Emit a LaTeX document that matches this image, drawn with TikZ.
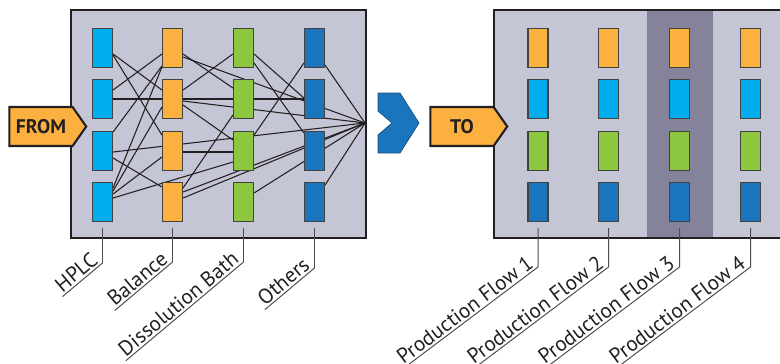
\documentclass[tikz,border=0pt]{standalone}
\usepackage{fontspec}
\setmainfont{PT Sans}
\usetikzlibrary{calc,shapes.symbols,backgrounds}
\definecolor{hplcblue}{HTML}{00AEEF}
\definecolor{balorange}{HTML}{FBB040}
\definecolor{bathgreen}{HTML}{8DC63F}
\definecolor{othblue}{HTML}{1B75BC}
\definecolor{panelgray}{HTML}{C4C5D5}
\definecolor{flowshade}{HTML}{84839A}
\definecolor{inkdark}{HTML}{231F20}
\begin{document}
\begin{tikzpicture}[x=0.025cm, y=-0.025cm,
		panel/.style={draw=inkdark, line width=2pt},
		dev/.style={rectangle, draw=inkdark!85, line width=0.8pt, minimum width=0.5cm, minimum height=0.975cm, inner sep=0pt},
		link/.style={draw=inkdark, line width=0.75pt},
		lead/.style={draw=inkdark!80, line width=0.7pt},
		tag/.style={signal, signal to=east, signal pointer angle=110, fill=balorange, draw=inkdark, line width=1.5pt, minimum width=1.92cm, minimum height=0.975cm, font=\bfseries\fontsize{14}{16}\selectfont, text=inkdark},
		lbl/.style={anchor=south east, inner sep=1.5pt, font=\fontsize{15}{18}\selectfont, text=inkdark}
	]
		\useasboundingbox (0,0) rectangle (780,363);
		\clip (0,0) rectangle (780,363);
		
		% the two panels
		\begin{scope}[on background layer]
			\draw[panel, fill=panelgray] (71,10) rectangle (366,238);
			\fill[panelgray] (494,10) rectangle (800,238);
			\fill[flowshade] (647,10) rectangle (713,238);
			\draw[panel] (494,10) rectangle (800,238);
		\end{scope}
		
		% FROM: instruments grouped by type
		\node[dev, fill=hplcblue] (h1) at (102.5,48) {};
		\node[dev, fill=hplcblue] (h2) at (102.5,99) {};
		\node[dev, fill=hplcblue] (h3) at (102.5,151) {};
		\node[dev, fill=hplcblue] (h4) at (102.5,202) {};
		\node[dev, fill=balorange] (b1) at (172.5,48) {};
		\node[dev, fill=balorange] (b2) at (172.5,99) {};
		\node[dev, fill=balorange] (b3) at (172.5,151) {};
		\node[dev, fill=balorange] (b4) at (172.5,202) {};
		\node[dev, fill=bathgreen] (d1) at (243.5,48) {};
		\node[dev, fill=bathgreen] (d2) at (243.5,99) {};
		\node[dev, fill=bathgreen] (d3) at (243.5,151) {};
		\node[dev, fill=bathgreen] (d4) at (243.5,202) {};
		\node[dev, fill=othblue] (o1) at (314.5,48) {};
		\node[dev, fill=othblue] (o2) at (314.5,99) {};
		\node[dev, fill=othblue] (o3) at (314.5,151) {};
		\node[dev, fill=othblue] (o4) at (314.5,202) {};
		\coordinate (hub) at (365,123);
		
		% tangled links between the groups
		\begin{scope}[on background layer]
			\draw[link] ($(h1.east)+(0,6)$) -- ($(b2.west)+(0,-9)$);
			\draw[link] ($(h1.east)+(0,7)$) -- ($(b3.west)+(0,-16)$);
			\draw[link] ($(h2.east)+(0,-9)$) -- ($(b1.west)+(0,6)$);
			\draw[link] (h2.east) -- (o2.west);
			\draw[link] ($(h3.east)+(0,-19)$) -- ($(b1.west)+(0,18)$);
			\draw[link] ($(h3.east)+(0,1)$) -- (hub);
			\draw[link] ($(h3.east)+(0,7)$) -- ($(b4.west)+(0,-15)$);
			\draw[link] ($(h4.east)+(0,-14)$) -- ($(b1.west)+(0,19)$);
			\draw[link] ($(h4.east)+(0,-11)$) -- ($(b2.west)+(0,8)$);
			\draw[link] ($(h4.east)+(0,-8)$) -- ($(b3.west)+(0,6)$);
			\draw[link] ($(h4.east)+(0,-4)$) -- ($(d3.west)+(0,11)$);
			\draw[link] ($(b1.east)+(0,6)$) -- ($(d2.west)+(0,-11)$);
			\draw[link] ($(b1.east)+(0,9)$) -- (hub);
			\draw[link] ($(b2.east)+(0,-9)$) -- ($(d1.west)+(0,6)$);
			\draw[link] ($(b2.east)+(0,2)$) -- (hub);
			\draw[link] ($(b2.east)+(0,6)$) -- ($(d3.west)+(0,-11)$);
			\draw[link] ($(b3.east)+(0,1)$) -- ($(d3.west)+(0,1)$);
			\draw[link] ($(b4.east)+(0,-14)$) -- ($(d2.west)+(0,16)$);
			\draw[link] ($(b4.east)+(0,-10)$) -- (hub);
			\draw[link] ($(b4.east)+(0,-4)$) -- (hub);
			\draw[link] ($(d1.east)+(0,6)$) -- ($(o2.west)+(0,-1)$);
			\draw[link] ($(d1.east)+(0,15)$) -- ($(o3.west)+(0,-18)$);
			\draw[link] ($(d3.east)+(0,-16)$) -- ($(o1.west)+(0,15)$);
			\draw[link] ($(d4.east)+(0,-9)$) -- (hub);
			\draw[link] ($(o1.east)+(0,17)$) -- (hub);
			\draw[link] ($(o4.east)+(0,-17)$) -- (hub);
		\end{scope}
		
		% TO: one flow per column
		\node[dev, fill=balorange] (fa1) at (538,48) {};
		\node[dev, fill=hplcblue] (fb1) at (538,99) {};
		\node[dev, fill=bathgreen] (fc1) at (538,151) {};
		\node[dev, fill=othblue] (fd1) at (538,202) {};
		\node[dev, fill=balorange] (fa2) at (608.5,48) {};
		\node[dev, fill=hplcblue] (fb2) at (608.5,99) {};
		\node[dev, fill=bathgreen] (fc2) at (608.5,151) {};
		\node[dev, fill=othblue] (fd2) at (608.5,202) {};
		\node[dev, fill=balorange] (fa3) at (679.5,48) {};
		\node[dev, fill=hplcblue] (fb3) at (679.5,99) {};
		\node[dev, fill=bathgreen] (fc3) at (679.5,151) {};
		\node[dev, fill=othblue] (fd3) at (679.5,202) {};
		\node[dev, fill=balorange] (fa4) at (750.5,48) {};
		\node[dev, fill=hplcblue] (fb4) at (750.5,99) {};
		\node[dev, fill=bathgreen] (fc4) at (750.5,151) {};
		\node[dev, fill=othblue] (fd4) at (750.5,202) {};
		
		% tags and the big chevron
		\node[tag] (from) at (41,126.5) {FROM};
		\node[tag] (to) at (462,126.5) {TO};
		\filldraw[fill=othblue, draw=othblue!70!black, line width=0.5pt]
			(378,93) -- (400,93) -- (419,123) -- (400,153) -- (378,153) -- (378,135) -- (392,123) -- (378,111) -- cycle;
		
		% slanted labels
		\node[lbl, rotate=40] (lh) at (102.5,263) {HPLC};
		\node[lbl, rotate=40] (lb) at (172.5,262) {Balance};
		\node[lbl, rotate=40] (ld) at (243.5,262) {Dissolution Bath};
		\node[lbl, rotate=40] (lo) at (314.5,268) {Others};
		\draw[lead] ($(h4.south)+(0,6)$) -- (lh.south east) -- (lh.south west);
		\draw[lead] ($(b4.south)+(0,6)$) -- (lb.south east) -- (lb.south west);
		\draw[lead] ($(d4.south)+(0,6)$) -- (ld.south east) -- (ld.south west);
		\draw[lead] ($(o4.south)+(0,6)$) -- (lo.south east) -- (lo.south west);
		\node[lbl, rotate=37] (lf1) at (538,267) {Production Flow 1};
		\node[lbl, rotate=37] (lf2) at (608.5,267) {Production Flow 2};
		\node[lbl, rotate=37] (lf3) at (679.5,267) {Production Flow 3};
		\node[lbl, rotate=37] (lf4) at (750.5,267) {Production Flow 4};
		\draw[lead] ($(fd1.south)+(0,6)$) -- (lf1.south east) -- (lf1.south west);
		\draw[lead] ($(fd2.south)+(0,6)$) -- (lf2.south east) -- (lf2.south west);
		\draw[lead] ($(fd3.south)+(0,6)$) -- (lf3.south east) -- (lf3.south west);
		\draw[lead] ($(fd4.south)+(0,6)$) -- (lf4.south east) -- (lf4.south west);
	\end{tikzpicture}
\end{document}
